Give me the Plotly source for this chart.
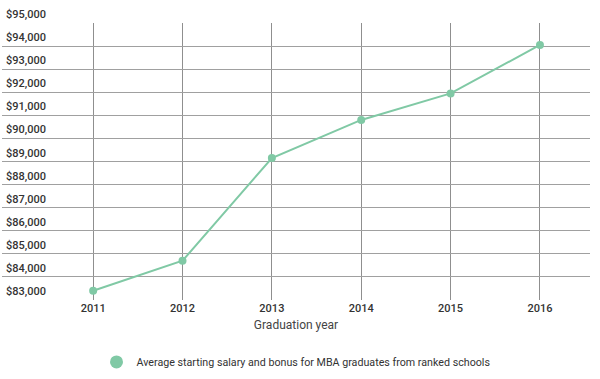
import plotly.graph_objects as go

years = [2011, 2012, 2013, 2014, 2015, 2016]
salary = [83400, 84700, 89150, 90800, 91950, 94050]
y_ticks = list(range(83000, 96000, 1000))
y_tick_labels = ["${:,}".format(v) for v in y_ticks]
series_name = "Average starting salary and bonus for MBA graduates from ranked schools"
line_color = "#80c9a5"

fig = go.Figure()
fig.add_trace(go.Scatter(
    x=years, y=salary, mode="lines+markers",
    line=dict(color=line_color, width=2),
    marker=dict(color=line_color, size=8),
    showlegend=False, hoverinfo="x+y",
))
fig.add_trace(go.Scatter(
    x=[None], y=[None], mode="markers", name=series_name,
    marker=dict(color=line_color, size=13),
    showlegend=True,
))

for v, lab in zip(y_ticks, y_tick_labels):
    fig.add_annotation(
        x=0, xref="paper", y=v, yref="y", text=lab, showarrow=False,
        xanchor="left", yanchor="bottom", xshift=2, yshift=0,
        font=dict(size=11, color="#333", weight=500),
    )

fig.update_layout(
    width=600, height=379,
    margin=dict(l=2, r=10, t=23, b=79, autoexpand=False),
    paper_bgcolor="white", plot_bgcolor="white",
    font=dict(family="Roboto, Arial, sans-serif", size=11, color="#333"),
    xaxis=dict(
        range=[2009.98, 2016.56], tickvals=years, ticktext=[str(y) for y in years],
        showgrid=True, gridcolor="#8f8f8f", gridwidth=1, zeroline=False,
        showline=False, ticks="", ticklen=0, automargin=False,
        tickfont=dict(size=11, color="#333", weight=500),
        title=dict(text="Graduation year", font=dict(size=12, color="#444"), standoff=6),
    ),
    yaxis=dict(
        range=[83000, 95000], tickvals=y_ticks, showticklabels=False,
        showgrid=True, gridcolor="#a0a0a0", gridwidth=1, zeroline=False,
        showline=False, ticks="", automargin=False,
    ),
    legend=dict(orientation="h", x=0.5, xanchor="center", yref="container", y=0.045, yanchor="middle",
                font=dict(size=10.7, color="#333"), itemsizing="trace"),
)

fig.write_html("out.html", config={"displayModeBar": False},
               post_script="document.body.style.margin='0';document.body.style.overflow='hidden';")
